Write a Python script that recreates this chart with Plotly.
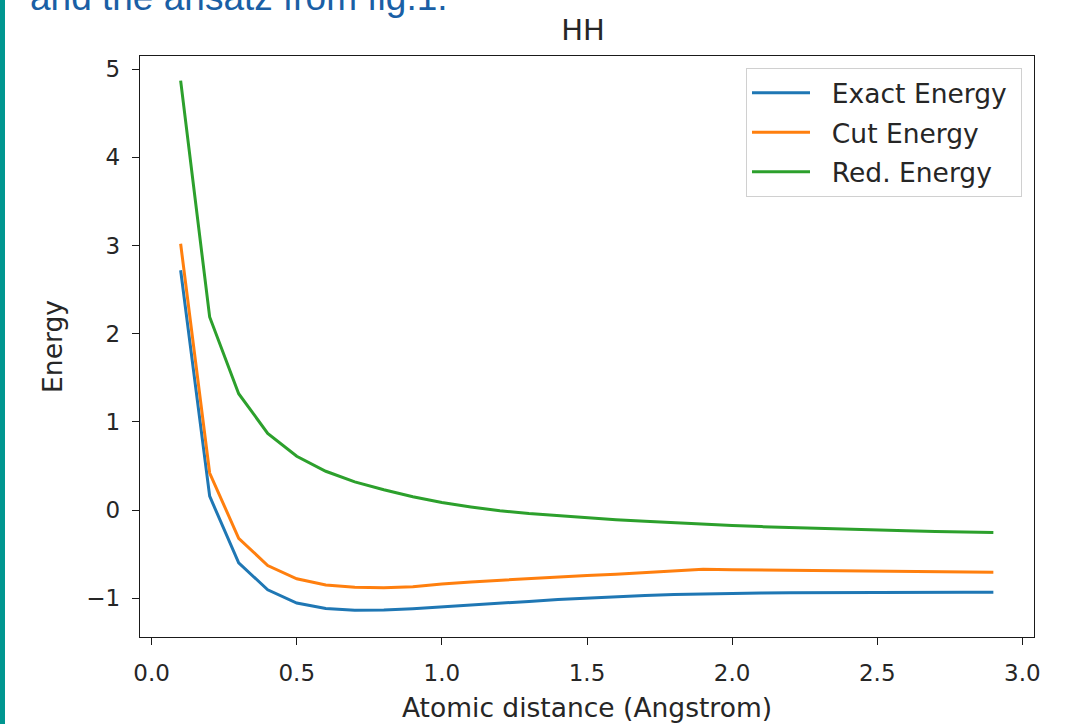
import plotly.graph_objects as go

distance = [0.1, 0.2, 0.3, 0.4, 0.5, 0.6, 0.7, 0.8, 0.9, 1.0,
            1.1, 1.2, 1.3, 1.4, 1.5, 1.6, 1.7, 1.8, 1.9, 2.0,
            2.1, 2.2, 2.3, 2.4, 2.5, 2.6, 2.7, 2.8, 2.9]

exact_energy = [2.72, 0.157, -0.60, -0.904, -1.055, -1.116, -1.136, -1.134, -1.120, -1.101,
                -1.079, -1.057, -1.036, -1.016, -0.998, -0.983, -0.970, -0.959, -0.951, -0.945,
                -0.940, -0.937, -0.935, -0.934, -0.933, -0.933, -0.933, -0.933, -0.933]

cut_energy = [3.02, 0.42, -0.32, -0.63, -0.78, -0.85, -0.875, -0.88, -0.87, -0.838,
              -0.815, -0.795, -0.775, -0.757, -0.742, -0.727, -0.708, -0.69, -0.672, -0.676,
              -0.68, -0.684, -0.688, -0.691, -0.694, -0.697, -0.70, -0.702, -0.705]

red_energy = [4.87, 2.19, 1.32, 0.87, 0.61, 0.44, 0.32, 0.23, 0.15, 0.085,
              0.035, -0.008, -0.04, -0.066, -0.092, -0.11, -0.128, -0.146, -0.162, -0.176,
              -0.188, -0.199, -0.209, -0.219, -0.227, -0.235, -0.242, -0.249, -0.256]

series_names = ["Exact Energy", "Cut Energy", "Red. Energy"]
series_colors = ["#1f77b4", "#ff7f0e", "#2ca02c"]

x_ticks = [0.0, 0.5, 1.0, 1.5, 2.0, 2.5, 3.0]
x_tick_labels = ["0.0", "0.5", "1.0", "1.5", "2.0", "2.5", "3.0"]
y_ticks = [-1, 0, 1, 2, 3, 4, 5]
y_tick_labels = ["\u22121", "0", "1", "2", "3", "4", "5"]

W, H = 1081, 724
L, R, T, B = 140, 47, 56, 87
pw, ph = W - L - R, H - T - B

FONT = "DejaVu Sans"
TXT = "#262626"
NB = "\u00a0"

fig = go.Figure()
for i, (name, ys, col) in enumerate(zip(series_names, [exact_energy, cut_energy, red_energy], series_colors)):
    fig.add_trace(go.Scatter(x=distance, y=ys, mode="lines", name=NB * 2 + name + NB,
                             legendgroup=f"g{i}",
                             line=dict(color=col, width=3)))

axis_common = dict(showline=True, mirror=True, linecolor="#1a1a1a", linewidth=1.3,
                   ticks="outside", ticklen=7, tickwidth=1.3, tickcolor="#1a1a1a",
                   showgrid=False, zeroline=False,
                   tickfont=dict(family=FONT, size=23, color=TXT))

fig.update_layout(
    width=W, height=H,
    margin=dict(l=L, r=R, t=T, b=B, autoexpand=False),
    paper_bgcolor="white", plot_bgcolor="white",
    title=dict(text="HH", x=(583 - L) / pw, xref="paper", xanchor="center",
               y=1 - 30 / H, yref="container", yanchor="middle",
               font=dict(family=FONT, size=29, color=TXT)),
    xaxis=dict(range=[-0.04, 3.04], tickvals=x_ticks, ticktext=x_tick_labels,
               ticklabelstandoff=8,
               title=dict(text="Atomic distance (Angstrom)", standoff=13,
                          font=dict(family=FONT, size=26.5, color=TXT)),
               **axis_common),
    yaxis=dict(range=[-1.44, 5.15], tickvals=y_ticks, ticktext=y_tick_labels,
               ticklabelstandoff=7,
               title=dict(text="Energy", standoff=16,
                          font=dict(family=FONT, size=26.5, color=TXT)),
               **axis_common),
    legend=dict(x=(1022 - L) / pw, y=(H - B - 68) / ph, xanchor="right", yanchor="top",
                bgcolor="white", bordercolor="#d0d0d0", borderwidth=1,
                font=dict(family=FONT, size=26.5, color=TXT),
                itemwidth=58, tracegroupgap=2),
    showlegend=True,
)

# teal side bar of the slide
fig.add_shape(type="rect", xref="paper", yref="paper",
              x0=-L / pw - 0.01, x1=(5 - L) / pw, y0=-B / ph - 0.01, y1=1 + T / ph + 0.01,
              fillcolor="#009690", line=dict(width=0), layer="above")

# cut-off caption text at top of slide
fig.add_annotation(text="and the ansatz from fig.1.", xref="paper", yref="paper",
                   x=(28 - L) / pw, y=(H - B - 20) / ph, xanchor="left", yanchor="bottom",
                   showarrow=False,
                   font=dict(family="Liberation Sans", size=37, color="#1a5fa5"))

fig.write_html("out.html", config={"displayModeBar": False},
               post_script="document.body.style.margin='0px';document.body.style.overflow='hidden';")
